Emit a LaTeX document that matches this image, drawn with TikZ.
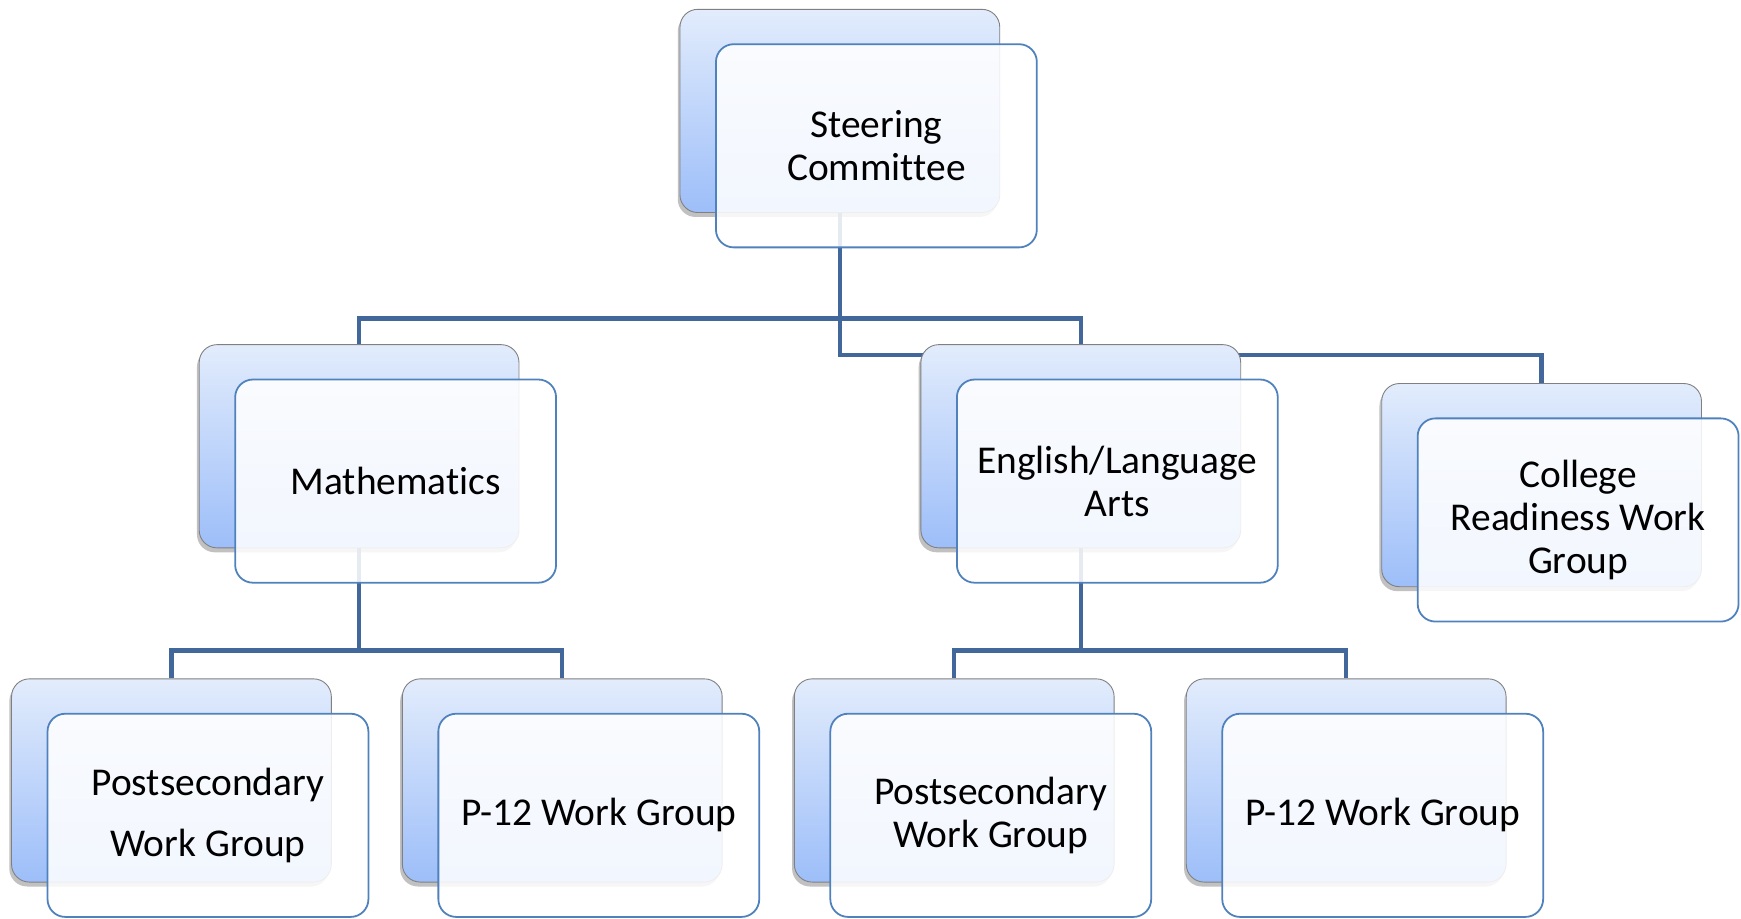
\documentclass[tikz,border=0pt]{standalone}
\usepackage{fontspec}
\setmainfont[Ligatures={NoCommon}]{Carlito}
\usetikzlibrary{shadows,calc}
\pgfdeclarelayer{bg}
\pgfsetlayers{bg,main}
\definecolor{conncol}{HTML}{41679B}
\definecolor{frontcol}{HTML}{4F81BD}
\definecolor{backtop}{HTML}{E2ECFC}
\definecolor{backbot}{HTML}{9DBEF9}
\tikzset{
  backbox/.style={draw=black!50, line width=0.8bp, rounded corners=16bp,
    minimum width=288bp, minimum height=183bp, inner sep=0pt,
    top color=backtop, bottom color=backbot,
    drop shadow={shadow xshift=-2bp, shadow yshift=-4bp, opacity=0.35, fill=black!70}},
  frontbox/.style={draw=frontcol, line width=1.6bp, rounded corners=16bp,
    minimum width=289bp, minimum height=183bp, inner sep=0pt,
    fill=white, fill opacity=0.87, text opacity=1, align=center,
    font=\fontsize{35.5bp}{39bp}\selectfont},
  conn/.style={draw=conncol, line width=3.8bp}
}
\newcommand{\obox}[4]{%
  \node[backbox, anchor=north west] (#1b) at (#2,#3) {};
  \node[frontbox, anchor=north west] (#1) at ($(#2,#3)+(32,31)$) {#4};
}
\begin{document}
\begin{tikzpicture}[x=1bp,y=-1bp]
\useasboundingbox (0,0) rectangle (1568,827);
\obox{steer}{612}{8}{Steering\\Committee}
\obox{math}{179}{310}{Mathematics}
\obox{engl}{829}{310}{English/Language\\Arts}
\obox{coll}{1244}{345}{College\\Readiness Work\\Group}
\obox{mps}{10}{611}{Postsecondary\\[16bp]Work Group}
\obox{mpt}{362}{611}{P-12 Work Group}
\obox{eps}{715}{611}{Postsecondary\\Work Group}
\obox{ept}{1068}{611}{P-12 Work Group}
\begin{pgfonlayer}{bg}
  \coordinate (j1) at ($(steerb.south)+(0,95)$);
  \coordinate (j2) at ($(steerb.south)+(0,128)$);
  \draw[conn] (steerb.south) -- (j2) -| (collb.north);
  \draw[conn] (j1) -| (mathb.north);
  \draw[conn] (j1) -| (englb.north);
  \coordinate (j3) at ($(mathb.south)+(0,92)$);
  \draw[conn] (mathb.south) -- (j3);
  \draw[conn] (j3) -| (mpsb.north);
  \draw[conn] (j3) -| (mptb.north);
  \coordinate (j4) at ($(englb.south)+(0,92)$);
  \draw[conn] (englb.south) -- (j4);
  \draw[conn] (j4) -| (epsb.north);
  \draw[conn] (j4) -| (eptb.north);
\end{pgfonlayer}
\end{tikzpicture}
\end{document}
